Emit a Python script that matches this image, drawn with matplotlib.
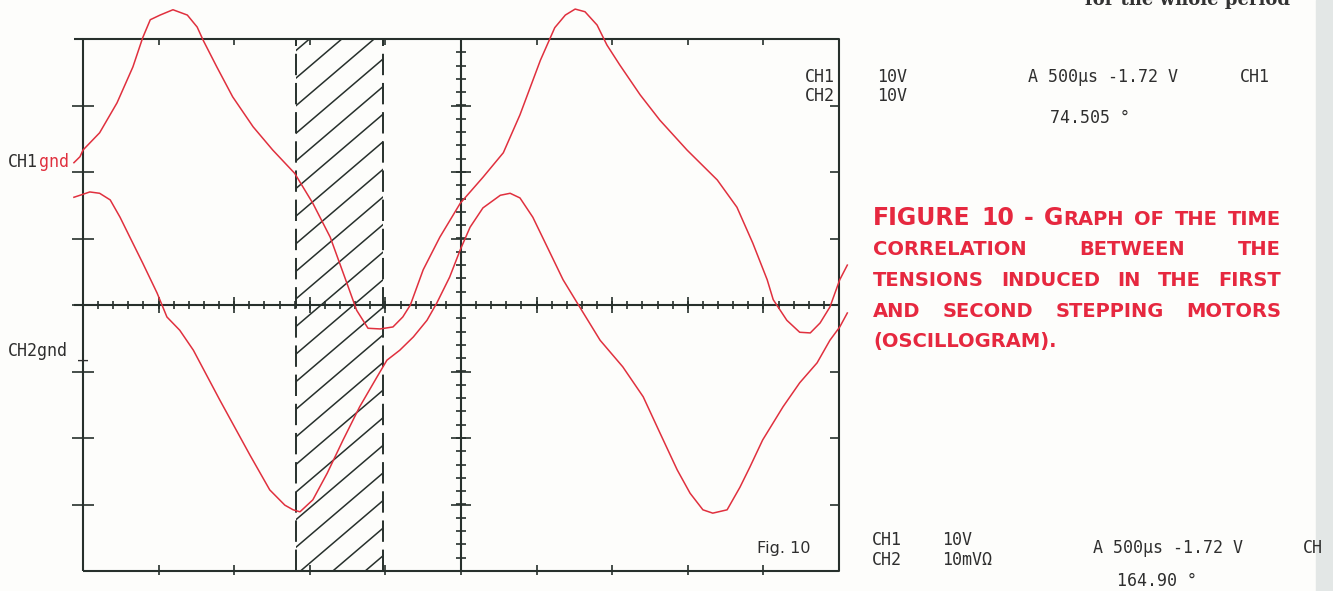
import numpy as np
import matplotlib
matplotlib.use('Agg')
import matplotlib.pyplot as plt
from matplotlib.patches import Rectangle

# trace samples, in screen divisions (x: 0..10, y: -4..4)
ch1_x = [-0.12, -0.04, 0.00, 0.22, 0.45, 0.66, 0.79, 0.89, 1.02, 1.19, 1.38, 1.51, 1.59,
         1.77, 1.98, 2.25, 2.51, 2.80, 3.04, 3.27, 3.49, 3.62, 3.77, 3.93, 4.10, 4.23,
         4.33, 4.50, 4.72, 4.99, 5.29, 5.56, 5.78, 6.05, 6.24, 6.38, 6.51, 6.64, 6.80,
         6.93, 7.10, 7.37, 7.63, 7.99, 8.39, 8.65, 8.86, 9.05, 9.13, 9.31, 9.48, 9.62,
         9.75, 9.88, 10.01, 10.11]
ch1_y = [2.14, 2.23, 2.33, 2.59, 3.04, 3.58, 4.02, 4.29, 4.36, 4.44, 4.36, 4.18, 3.98,
         3.58, 3.13, 2.68, 2.33, 1.98, 1.53, 1.02, 0.33, -0.08, -0.35, -0.36, -0.33, -0.18,
         0.00, 0.53, 1.02, 1.53, 1.92, 2.29, 2.86, 3.68, 4.17, 4.36, 4.45, 4.41, 4.21,
         3.91, 3.61, 3.16, 2.78, 2.33, 1.88, 1.47, 0.93, 0.38, 0.08, -0.23, -0.41, -0.42,
         -0.27, -0.03, 0.38, 0.60]

ch2_x = [-0.12, -0.04, 0.09, 0.22, 0.36, 0.49, 0.62, 0.79, 0.98, 1.11, 1.28, 1.46, 1.81,
         2.21, 2.47, 2.67, 2.78, 2.87, 3.04, 3.23, 3.44, 3.66, 3.89, 4.02, 4.19, 4.37,
         4.55, 4.68, 4.85, 4.99, 5.12, 5.29, 5.52, 5.65, 5.78, 5.95, 6.18, 6.35, 6.57,
         6.84, 7.14, 7.41, 7.63, 7.86, 8.03, 8.20, 8.33, 8.52, 8.69, 8.82, 8.99, 9.26,
         9.48, 9.71, 9.88, 10.01, 10.11]
ch2_y = [1.62, 1.65, 1.70, 1.68, 1.58, 1.32, 1.02, 0.63, 0.18, -0.18, -0.38, -0.68, -1.43,
         -2.26, -2.78, -3.01, -3.08, -3.11, -2.93, -2.53, -2.03, -1.53, -1.08, -0.83, -0.68, -0.48,
         -0.23, 0.03, 0.42, 0.83, 1.17, 1.46, 1.65, 1.68, 1.61, 1.32, 0.78, 0.38, -0.03,
         -0.53, -0.93, -1.38, -1.92, -2.48, -2.83, -3.08, -3.13, -3.08, -2.74, -2.44, -2.03, -1.53,
         -1.17, -0.87, -0.53, -0.33, -0.12]

# hatched interval (divisions)
hatch_x0, hatch_x1 = 2.82, 3.97

caption_lines = ["FIGURE 10 - Graph of the time",
                 "correlation between the",
                 "tensions induced in the first",
                 "and second stepping motors",
                 "(oscillogram)."]

W, H = 1333, 591
px_x, px_y = 75.6, 66.5     # pixels per division
INK = '#27302c'
TRACE = '#e0303e'
CAP = '#e6283f'

fig = plt.figure(figsize=(W / 100, H / 100), dpi=100, facecolor='#fdfdfb')
fig.patches.append(Rectangle((1316 / W, 0), 17 / W, 1, transform=fig.transFigure,
                             color='#e3e7e6', zorder=0))

ax = fig.add_axes([83 / W, 1 - 571 / H, (839 - 83) / W, (571 - 39) / H])
ax.set_xlim(0, 10)
ax.set_ylim(-4, 4)
ax.axis('off')

# graticule
kw = dict(color=INK, lw=1.5, clip_on=False, solid_capstyle='butt')
ax.plot([0, 10, 10, 0, 0], [-4, -4, 4, 4, -4], **kw)
ax.plot([-0.12, 0], [4, 4], **kw)
ax.plot([-0.12, 10], [0, 0], **kw)
ax.plot([5, 5], [-4, 4], **kw)

tk = dict(color=INK, lw=1.2, clip_on=False)
minor = np.arange(0, 10.01, 0.2)
ax.vlines(minor, -4 / px_y, 4 / px_y, **tk)
ax.vlines(np.arange(1, 10), -8 / px_y, 8 / px_y, **tk)
minor_y = np.arange(-4, 4.01, 0.2)
ax.hlines(minor_y, 5 - 5 / px_x, 5 + 5 / px_x, **tk)
ax.hlines(np.arange(-3, 4), 5 - 10 / px_x, 5 + 10 / px_x, **tk)
ax.hlines(np.arange(-3, 4), -11 / px_x, 11 / px_x, **tk)
ax.hlines(np.arange(-3, 4), 10 - 9 / px_x, 10, **tk)
ax.vlines(np.arange(1, 10), 4 - 6 / px_y, 4, **tk)
ax.vlines(np.arange(1, 10), -4 - 4 / px_y, -4 + 6 / px_y, **tk)

# hatched window
ax.vlines([hatch_x0, hatch_x1], -4, 4, color=INK, lw=1.4, linestyles=(0, (11, 4)))
clip = Rectangle((hatch_x0, -4), hatch_x1 - hatch_x0, 8, transform=ax.transData,
                 fill=False, lw=0)
ax.add_patch(clip)
slope = 0.97
hx = np.array([hatch_x0, hatch_x1])
for y0 in np.arange(-5.3, 4.2, 0.415):
    ln, = ax.plot(hx, y0 + slope * (hx - hatch_x0), color=INK, lw=1.1)
    ln.set_clip_path(clip)

# traces
ax.plot(ch1_x, ch1_y, color=TRACE, lw=1.1, clip_on=False, zorder=5)
ax.plot(ch2_x, ch2_y, color=TRACE, lw=1.1, clip_on=False, zorder=5)

renderer = fig.canvas.get_renderer()


def put(x, y, s, **k):
    opts = dict(fontsize=12, color='#2e2e2e', va='center', ha='left',
                family='DejaVu Sans Mono')
    opts.update(k)
    return fig.text(x / W, 1 - y / H, s, **opts)


t = put(8, 162, 'CH1')
put(8 + t.get_window_extent(renderer).width + 1, 162, 'gnd', color=TRACE)
put(8, 351, 'CH2gnd')
put(78, 352, '_')

put(805, 77, 'CH1')
put(877, 77, '10V')
put(805, 96, 'CH2')
put(877, 96, '10V')
put(1028, 77, 'A 500µs -1.72 V')
put(1240, 77, 'CH1')
put(1050, 118, '74.505 °')

put(757, 548, 'Fig. 10', family='DejaVu Sans', fontsize=11.5)
put(872, 540, 'CH1')
put(942, 540, '10V')
put(872, 560, 'CH2')
put(942, 560, '10mVΩ')
put(1093, 548, 'A 500µs -1.72 V')
put(1303, 548, 'CH')
put(1117, 581, '164.90 °')

# cut-off line of body text at the top of the page
put(1290, 5, 'for the whole period', family='DejaVu Serif', fontsize=13,
    fontweight='bold', ha='right', va='baseline', color='#333333')

# caption in small caps, justified
cap_left, cap_right = 873, 1281
baselines = [225, 255, 286, 317, 347]


def runs(word):
    out = []
    for c in word:
        big = c.isupper() or c.isdigit() or c == '-'
        if out and out[-1][1] == big:
            out[-1][0] += c
        else:
            out.append([c, big])
    return out


for i, line in enumerate(caption_lines):
    words = line.split()
    pieces = []
    widths = []
    for w in words:
        parts = []
        wsum = 0
        for txt, big in runs(w):
            t = fig.text(0, 0, txt.upper(), fontsize=17 if big else 14,
                         fontweight='bold', color=CAP, family='DejaVu Sans',
                         va='baseline', ha='left')
            ww = t.get_window_extent(renderer).width
            parts.append((t, wsum))
            wsum += ww
        pieces.append(parts)
        widths.append(wsum)
    if i < len(caption_lines) - 1:
        gap = (cap_right - cap_left - sum(widths)) / (len(words) - 1)
    else:
        gap = 8
    x = cap_left
    for parts, ww in zip(pieces, widths):
        for t, off in parts:
            t.set_position(((x + off) / W, 1 - baselines[i] / H))
        x += ww + gap

fig.savefig('out.png', dpi=100, facecolor=fig.get_facecolor())
